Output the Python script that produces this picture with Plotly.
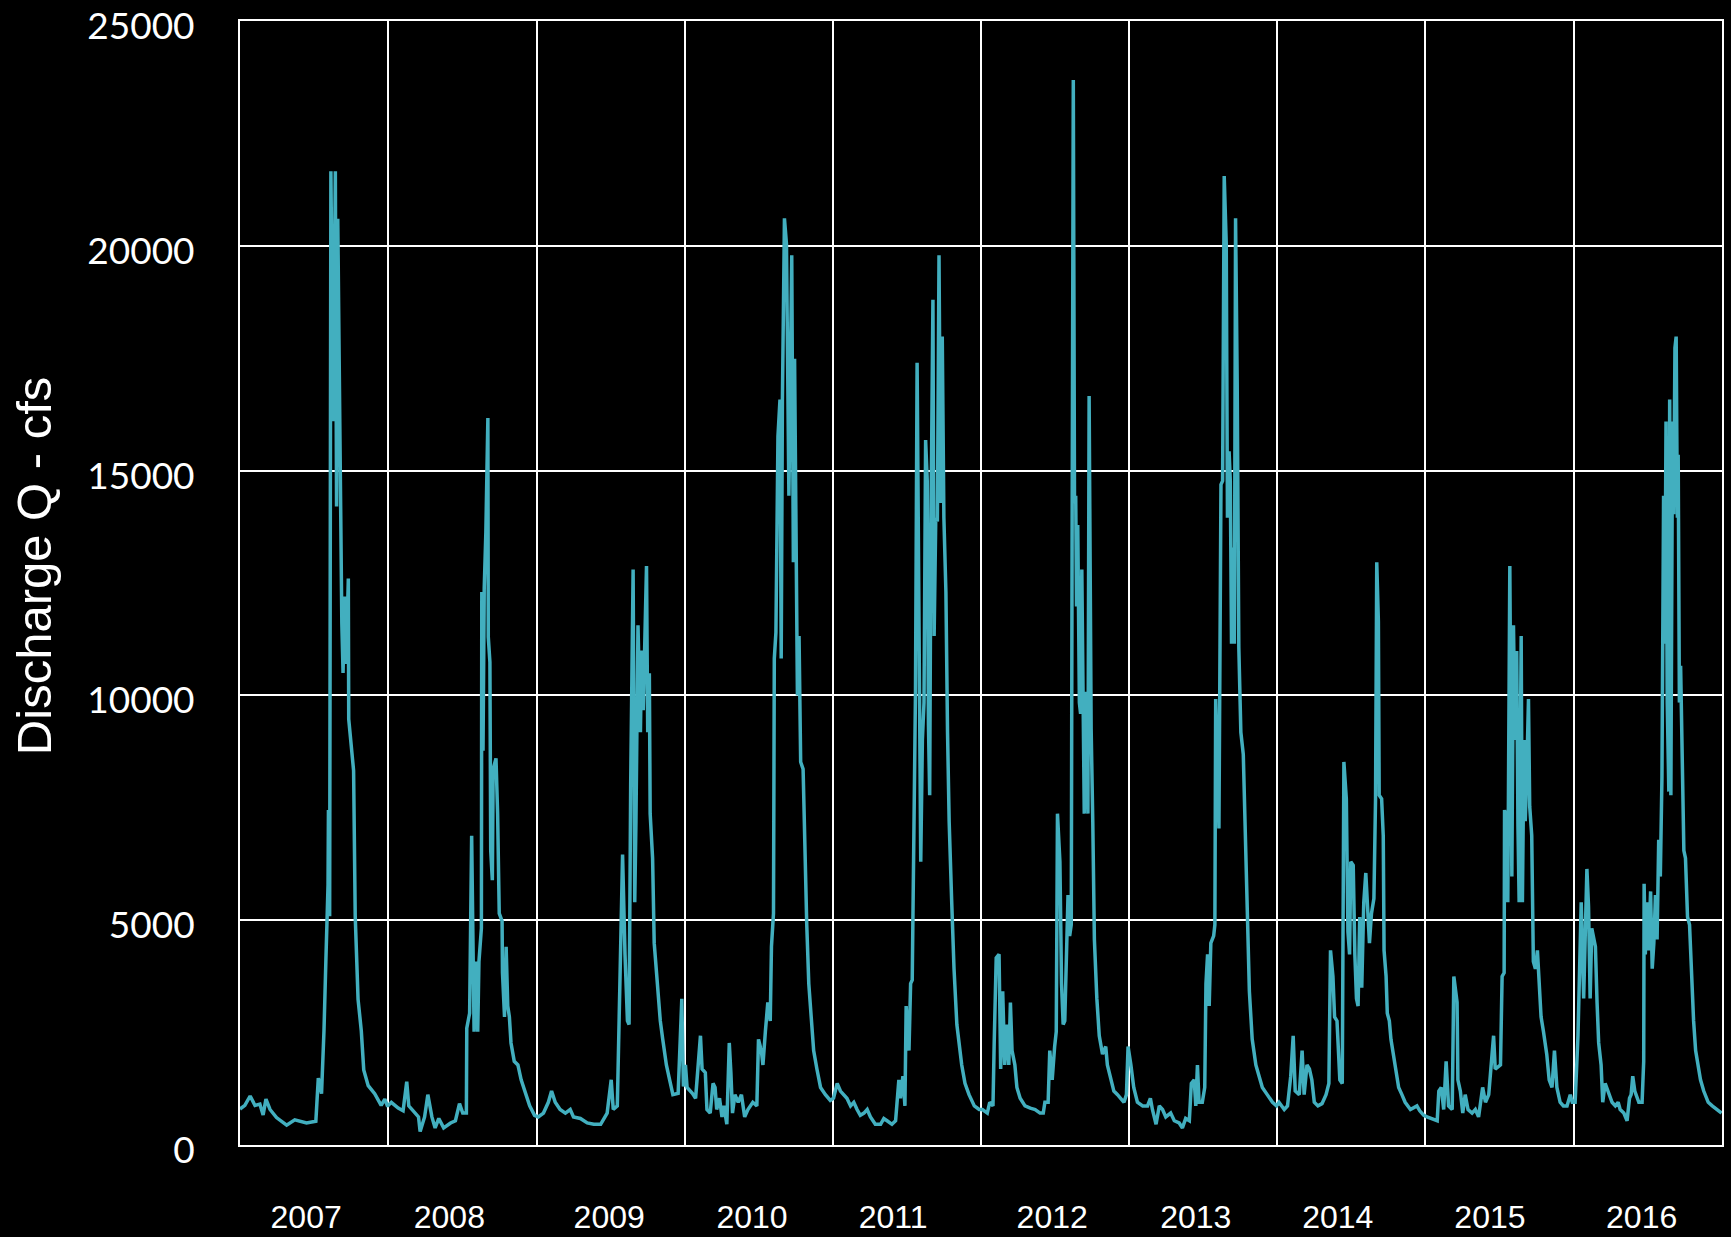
import pandas as pd
import plotly.graph_objects as go

# ---- Data: daily discharge (cfs), by water year (day 0 = Oct 1) ----
wy2007_day = [0,12,25,37,49,57,64,74,90,115,135,164,187,193,201,207,212,217,218,221,224,230,235,238,241,246,249,251,254,258,262,267,268,272,280,284,291,299,305,316,332,348,357,363]
wy2007_q = [800,880,1090,880,910,670,1020,790,610,440,560,490,530,1490,1140,2540,4210,5790,7450,5090,21660,16100,21660,14200,20600,15600,14200,11600,10500,12200,10700,12600,9470,9030,8330,5090,3240,2540,1670,1320,1140,880,1020,880]

wy2008_day = [0,8,25,37,46,51,66,75,79,90,98,108,116,125,137,154,166,176,184,193,194,201,206,209,212,216,221,224,228,230,231,234,237,241,246,247,251,253,257,259,266,270,274,281,282,287,291,295,299,303,311,320,328,340,349,361]
wy2008_q = [880,950,820,760,1410,870,710,625,300,625,1120,625,380,590,380,490,540,920,710,710,2600,2930,6880,4900,2520,4080,2520,4080,4650,4820,12300,8770,12390,13620,16170,11300,10740,6550,5890,8360,8600,7370,5150,4980,3830,2850,4410,3090,2850,2270,1860,1780,1450,1120,870,660]

wy2009_day = [4,17,29,37,46,58,71,83,91,108,125,141,158,174,184,189,199,205,212,218,224,228,232,238,242,245,250,256,259,263,267,271,274,278,280,286,290,297,305,311,320,328,336,349,358,362]
wy2009_q = [625,710,950,1200,950,790,710,790,625,590,490,460,460,710,1450,790,870,3420,6460,4240,2760,2680,8030,12800,5400,7200,11560,9180,11000,9670,11150,12880,9180,10490,7370,6380,4490,3590,2760,2350,1780,1450,1120,1150,3250,1300]

wy2010_day = [2,6,19,27,35,39,43,51,55,63,70,75,79,86,92,97,104,110,114,118,124,132,140,148,156,168,178,182,189,193,199,205,211,214,219,221,225,227,230,235,238,241,246,251,254,257,264,268,271,274,278,282,286,292,297,301,306,313,318,326,335,347,359]
wy2010_q = [1780,1280,1150,1040,1940,2430,1690,1610,790,710,1370,1280,790,1040,625,870,460,2270,1610,710,1120,950,1120,625,790,950,870,2350,2100,1780,2520,3170,2760,4410,5150,10820,11400,13950,15760,16580,10820,16580,20610,20040,16910,14440,19790,12960,17490,13620,10000,11320,8520,8360,6220,4900,3590,2680,2100,1690,1280,1120,990]

wy2011_day = [2,11,19,27,35,44,52,60,68,77,85,93,105,118,126,134,146,155,163,167,173,178,181,188,192,196,200,204,208,213,217,221,225,229,233,236,239,242,247,250,254,258,262,266,270,274,279,283,287,293,299,306,311,318,326,336,349,361]
wy2011_q = [1040,1370,1200,1120,1040,870,950,790,660,710,790,625,460,460,590,540,460,540,1450,1040,1530,870,3090,2100,3590,3670,6880,10080,17400,10580,6300,9010,9840,15680,14770,9340,7780,13620,18800,11320,13950,13870,19790,14280,17980,13950,12300,9180,7200,5480,3920,2680,2270,1780,1370,1120,870,790]

wy2012_day = [4,16,22,30,33,38,45,49,54,59,65,69,73,77,84,89,97,109,122,134,146,154,158,166,170,176,182,186,189,195,199,203,207,211,215,219,223,225,228,231,234,236,239,243,246,249,252,255,260,264,267,272,276,280,286,292,300,308,312,320,328,337,345,353,359,363]
wy2012_q = [790,710,950,870,2270,4160,4240,1690,3420,1780,2680,1780,3170,2100,1780,1280,1040,870,820,790,710,710,950,950,2100,1450,2190,2520,7370,6300,3590,2680,2760,4410,5560,4650,4900,13290,23690,14280,14440,11980,13790,9840,9590,12800,9510,7370,10080,7370,16660,9260,7200,4570,3260,2430,2020,2190,1780,1450,1200,1120,1040,950,1120,2190]

wy2013_day = [4,11,20,33,45,52,57,66,74,82,90,102,111,123,131,139,148,153,160,164,168,172,180,186,189,193,197,201,208,211,213,217,221,226,230,234,239,242,246,249,252,255,259,262,266,270,275,281,287,291,296,303,312,320,328,340,353,363]
wy2013_q = [1780,1280,950,870,870,1040,790,460,870,790,625,710,540,490,380,590,540,1370,1450,870,1780,950,950,1280,3590,4240,3090,4490,4650,4900,9920,8190,7040,14690,14770,21550,20040,13950,15430,14770,11150,13290,11150,20610,16910,11070,9180,8690,6550,4650,3420,2350,1780,1530,1280,1120,950,870]

wy2014_day = [4,17,25,33,39,44,54,61,66,73,79,85,91,100,110,120,127,131,137,141,147,154,160,164,170,174,178,181,187,191,195,199,203,208,213,218,222,227,232,238,242,245,249,251,257,261,263,268,271,276,280,286,293,299,307,315,328,344,351,361]
wy2014_q = [950,790,870,1530,2430,1200,1120,2100,1120,1780,1690,1450,950,870,920,1120,1370,4330,3750,2850,2760,1450,1370,8520,7700,4740,4240,6300,6220,4240,3260,3090,5070,3500,5400,6050,5230,4490,5150,5480,7700,12960,11650,7780,7700,6880,4330,3750,2930,2760,2350,2020,1610,1280,1120,950,790,870,760,660]

wy2015_day = [4,16,29,33,39,45,51,57,66,70,78,80,86,92,98,105,115,123,131,141,148,156,162,168,172,185,189,194,195,200,203,208,213,217,221,225,228,231,236,239,243,246,250,254,257,262,266,271,276,279,285,291,299,305,312,318,324,332,340,349,357,362]
wy2015_q = [625,590,540,1200,1280,790,1860,870,790,3750,3170,1450,1200,710,1120,790,710,790,625,1280,950,1120,1780,2430,1690,1780,3750,3830,7450,7200,5400,12880,5970,11560,9010,10990,7120,5400,11320,5400,9010,7200,8360,9920,7530,6880,4080,3920,4330,3750,2850,2520,2020,1450,1280,2100,1280,950,870,870,1120,950]

wy2016_day = [4,11,16,19,25,29,33,37,41,45,49,54,58,62,68,72,78,87,95,103,110,115,124,132,138,142,146,151,161,169,173,174,177,181,185,190,194,198,202,206,210,214,218,222,225,228,231,235,237,240,244,247,250,253,256,258,261,264,268,272,276,281,286,291,296,301,307,313,321,332,342,354,365]
wy2016_q = [950,2430,4080,5400,3260,4410,6140,5310,3260,4820,4650,4410,3170,2270,1780,950,1370,1120,950,870,950,790,710,540,1040,1120,1530,1200,950,950,1860,5810,4240,5400,4330,5640,3920,4490,5560,4570,6790,5970,8190,14440,11150,16090,9840,7860,16580,7780,16090,14030,17730,17980,13950,15350,9840,10660,8850,6550,6380,5070,4900,3590,2760,2100,1780,1450,1200,950,870,790,710]

water_years = [2007, 2008, 2009, 2010, 2011, 2012, 2013, 2014, 2015, 2016]
year_labels = ["2007", "2008", "2009", "2010", "2011", "2012", "2013", "2014", "2015", "2016"]
year_label_dates = ["2007-03-13", "2008-02-29", "2009-03-29", "2010-03-16", "2011-02-27",
                    "2012-03-25", "2013-03-14", "2014-02-27", "2015-03-09", "2016-03-17"]
y_ticks = [0, 5000, 10000, 15000, 20000, 25000]
y_title = "Discharge Q - cfs"

series = {
    2007: (wy2007_day, wy2007_q), 2008: (wy2008_day, wy2008_q), 2009: (wy2009_day, wy2009_q),
    2010: (wy2010_day, wy2010_q), 2011: (wy2011_day, wy2011_q), 2012: (wy2012_day, wy2012_q),
    2013: (wy2013_day, wy2013_q), 2014: (wy2014_day, wy2014_q), 2015: (wy2015_day, wy2015_q),
    2016: (wy2016_day, wy2016_q),
}

dates = []
flows = []
for wy in water_years:
    d, q = series[wy]
    start = pd.Timestamp(f"{wy - 1}-10-01")
    dates.extend(list(start + pd.to_timedelta(d, unit="D")))
    flows.extend(q)

grid_dates = [f"{y}-10-01" for y in range(2006, 2017)]

fig = go.Figure(go.Scatter(
    x=dates, y=flows, mode="lines",
    line=dict(color="#42AFBF", width=3.5),
    hoverinfo="x+y",
))

fig.update_layout(
    width=1731, height=1237,
    paper_bgcolor="black", plot_bgcolor="black",
    margin=dict(l=240, r=9, t=21, b=92),
    showlegend=False,
)

fig.update_xaxes(
    type="date",
    range=["2006-10-01", "2016-10-01"],
    tickmode="array", tickvals=year_label_dates, ticktext=year_labels,
    showgrid=False, ticks="", zeroline=False, automargin=False,
    tickfont=dict(family="Liberation Sans, Arial, sans-serif", size=32, color="white"),
    ticklabelstandoff=43, ticklabeloverflow="allow",
    showline=True, linecolor="white", linewidth=2, mirror=True,
    minor=dict(tickmode="array", tickvals=grid_dates, showgrid=True,
               gridcolor="white", gridwidth=2, ticks=""),
)

fig.update_yaxes(
    range=[0, 25000],
    tickmode="array", tickvals=y_ticks, ticktext=[str(v) for v in y_ticks],
    showgrid=True, gridcolor="white", gridwidth=2, zeroline=False, ticks="",
    automargin=False, ticklabeloverflow="allow",
    tickfont=dict(family="Lato, sans-serif", size=37, color="white"),
    ticklabelstandoff=36, ticklabelshift=5,
    showline=True, linecolor="white", linewidth=2, mirror=True,
)

fig.add_annotation(
    text=y_title, xref="paper", yref="paper",
    x=-0.139, y=0.515, xanchor="center", yanchor="middle",
    textangle=-90, showarrow=False,
    font=dict(family="Liberation Sans, Arial, sans-serif", size=49, color="white"),
)

fig.write_html("out.html")
